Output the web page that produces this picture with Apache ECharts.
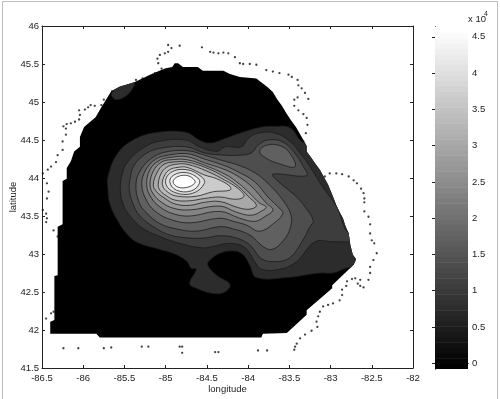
<!DOCTYPE html>
<html>
<head>
<meta charset="utf-8">
<style>html,body{margin:0;padding:0;background:#fff}#c{width:500px;height:399px}</style>
<script src="https://cdn.jsdelivr.net/npm/echarts@6/dist/echarts.min.js"></script>
</head>
<body>
<div id="c"></div>
<script>
// Axis ticks
const lonTicks = [-86.5, -82];
const latTicks = [41.5, 46];
const colorbarTicks = [0, 5000, 10000, 15000, 20000, 25000, 30000, 35000, 40000, 45000];
const colorbarRange = [-800, 46360];

// Field value at the lower edge of each filled band
const bandLevels = [0, 7400, 10500, 13700, 17000, 20300, 23600, 26900, 30200, 33500, 36800, 40100, 43400, 46360];

// Outline of the interpolated domain [lon, lat]
const domain = [[-86.40,41.95],[-86.40,42.11],[-86.35,42.13],[-86.35,42.71],[-86.31,42.72],[-86.31,43.36],[-86.25,43.39],[-86.25,43.96],[-86.20,43.99],[-86.20,44.13],[-86.15,44.22],[-86.11,44.35],[-86.04,44.41],[-86.04,44.54],[-85.99,44.67],[-85.85,44.80],[-85.78,44.93],[-85.66,45.14],[-85.56,45.20],[-85.38,45.26],[-85.19,45.36],[-85.01,45.44],[-84.92,45.46],[-84.89,45.51],[-84.85,45.51],[-84.79,45.46],[-84.61,45.46],[-84.55,45.41],[-84.30,45.41],[-84.22,45.37],[-84.10,45.33],[-83.90,45.31],[-83.83,45.25],[-83.77,45.20],[-83.70,45.13],[-83.65,45.04],[-83.59,44.95],[-83.54,44.86],[-83.48,44.76],[-83.42,44.67],[-83.35,44.54],[-83.29,44.42],[-83.29,44.35],[-83.23,44.26],[-83.18,44.18],[-83.13,44.11],[-83.08,44.01],[-83.03,43.91],[-82.98,43.78],[-82.93,43.64],[-82.89,43.55],[-82.85,43.47],[-82.82,43.37],[-82.78,43.27],[-82.76,43.12],[-82.73,42.99],[-82.69,42.93],[-82.72,42.86],[-82.98,42.59],[-82.98,42.55],[-83.29,42.26],[-83.29,42.20],[-83.53,41.96],[-83.82,41.95],[-83.84,41.90],[-85.80,41.90],[-85.84,41.95]];

// Contour outlines, outermost first; index matches bandLevels
const contour1 = [[-85.70,43.84],[-85.70,44.02],[-85.58,44.33],[-85.36,44.52],[-85.11,44.60],[-84.75,44.60],[-84.59,44.50],[-84.46,44.46],[-84.28,44.52],[-84.10,44.59],[-83.84,44.67],[-83.70,44.68],[-83.49,44.66],[-83.35,44.48],[-83.13,44.37],[-82.40,43.32],[-82.50,42.89],[-82.82,42.81],[-82.97,42.75],[-83.13,42.75],[-83.53,42.69],[-83.90,42.69],[-83.98,42.85],[-84.06,42.99],[-84.18,43.04],[-84.34,43.01],[-84.44,42.94],[-84.49,42.86],[-84.38,42.72],[-84.22,42.60],[-84.28,42.50],[-84.42,42.48],[-84.63,42.55],[-84.71,42.61],[-84.63,42.80],[-84.69,42.81],[-84.74,42.90],[-84.87,42.99],[-85.07,43.06],[-85.32,43.14],[-85.46,43.25],[-85.60,43.47],[-85.68,43.67]];
const contour2 = [[-85.55,43.84],[-85.52,44.08],[-85.44,44.24],[-85.28,44.39],[-85.09,44.48],[-84.75,44.50],[-84.59,44.41],[-84.38,44.35],[-84.28,44.41],[-84.08,44.41],[-84.00,44.52],[-83.88,44.59],[-83.67,44.59],[-83.49,44.48],[-83.37,44.33],[-83.25,44.15],[-83.10,43.89],[-82.93,43.63],[-82.76,43.25],[-82.40,43.17],[-82.97,43.16],[-83.19,43.16],[-83.41,42.90],[-83.61,42.80],[-83.84,42.80],[-83.92,42.90],[-83.98,43.01],[-84.06,43.10],[-84.22,43.14],[-84.39,43.11],[-84.55,43.08],[-84.83,43.14],[-85.07,43.23],[-85.28,43.34],[-85.44,43.51],[-85.52,43.67]];
const contour3 = [[-85.44,43.84],[-85.43,44.00],[-85.38,44.17],[-85.24,44.32],[-85.07,44.39],[-84.75,44.41],[-84.53,44.33],[-84.28,44.30],[-84.10,44.30],[-83.96,44.33],[-83.88,44.43],[-83.76,44.50],[-83.59,44.48],[-83.45,44.35],[-83.33,44.15],[-83.29,44.03],[-83.70,44.05],[-83.63,43.95],[-83.41,43.75],[-83.31,43.62],[-83.21,43.44],[-83.25,43.36],[-83.37,43.12],[-83.51,42.94],[-83.70,42.90],[-83.84,42.94],[-83.98,43.12],[-84.14,43.21],[-84.34,43.24],[-84.53,43.21],[-84.71,43.21],[-84.95,43.25],[-85.15,43.36],[-85.32,43.51],[-85.40,43.67]];
const contour4 = [[-85.36,43.92],[-85.30,44.11],[-85.17,44.26],[-85.01,44.34],[-84.74,44.36],[-84.53,44.30],[-84.28,44.22],[-84.12,44.17],[-83.92,44.07],[-83.76,43.93],[-83.58,43.71],[-83.48,43.51],[-83.49,43.34],[-83.57,43.18],[-83.71,43.06],[-83.82,43.10],[-83.98,43.25],[-84.18,43.33],[-84.34,43.36],[-84.63,43.30],[-84.87,43.33],[-85.07,43.40],[-85.23,43.54],[-85.32,43.67]];
const contour5 = [[-85.29,43.91],[-85.24,44.11],[-85.12,44.25],[-84.97,44.30],[-84.74,44.32],[-84.53,44.25],[-84.28,44.16],[-84.12,44.08],[-83.92,43.95],[-83.76,43.75],[-83.61,43.59],[-83.58,43.53],[-83.67,43.42],[-83.86,43.30],[-84.02,43.38],[-84.18,43.43],[-84.34,43.47],[-84.71,43.41],[-84.93,43.45],[-85.10,43.54],[-85.22,43.68]];
const contour6 = [[-85.23,43.91],[-85.19,44.11],[-85.08,44.23],[-84.95,44.27],[-84.74,44.28],[-84.53,44.20],[-84.28,44.11],[-84.12,44.02],[-83.96,43.89],[-83.78,43.67],[-83.70,43.58],[-83.80,43.49],[-83.92,43.43],[-84.10,43.47],[-84.34,43.56],[-84.71,43.50],[-84.91,43.53],[-85.07,43.62],[-85.18,43.75]];
const contour7 = [[-85.19,43.91],[-85.15,44.09],[-85.05,44.21],[-84.93,44.24],[-84.74,44.24],[-84.51,44.16],[-84.28,44.05],[-84.14,43.95],[-84.00,43.82],[-83.86,43.67],[-83.78,43.62],[-83.83,43.57],[-83.96,43.51],[-84.14,43.55],[-84.34,43.63],[-84.71,43.58],[-84.90,43.60],[-85.05,43.68],[-85.15,43.79]];
const contour8 = [[-85.15,43.91],[-85.10,44.08],[-85.02,44.18],[-84.90,44.21],[-84.74,44.21],[-84.50,44.13],[-84.28,44.01],[-84.12,43.89],[-84.00,43.76],[-83.90,43.64],[-83.98,43.59],[-84.12,43.61],[-84.34,43.69],[-84.53,43.68],[-84.71,43.64],[-84.89,43.66],[-85.02,43.74],[-85.11,43.82]];
const contour9 = [[-85.09,43.91],[-85.06,44.05],[-84.99,44.14],[-84.88,44.18],[-84.74,44.18],[-84.50,44.09],[-84.28,43.97],[-84.12,43.86],[-84.05,43.76],[-84.15,43.72],[-84.34,43.75],[-84.53,43.73],[-84.71,43.70],[-84.89,43.71],[-85.01,43.78],[-85.07,43.84]];
const contour10 = [[-85.04,43.91],[-85.01,44.04],[-84.95,44.11],[-84.85,44.14],[-84.74,44.14],[-84.53,44.04],[-84.38,43.99],[-84.22,43.89],[-84.22,43.84],[-84.42,43.82],[-84.63,43.76],[-84.85,43.76],[-84.97,43.81]];
const contour11 = [[-85.00,43.93],[-84.94,44.07],[-84.75,44.11],[-84.57,44.02],[-84.53,43.93],[-84.67,43.80],[-84.89,43.81]];
const contour12 = [[-84.95,43.95],[-84.90,44.04],[-84.75,44.07],[-84.61,44.00],[-84.59,43.93],[-84.69,43.83],[-84.87,43.84]];
const contour13 = [[-84.91,43.95],[-84.85,44.02],[-84.73,44.03],[-84.65,43.97],[-84.65,43.93],[-84.73,43.88],[-84.85,43.88]];

// Separate closed highs: the north-west shore patch and the north-east lobe
const patchNorthWest = [[-85.66,45.09],[-85.64,45.14],[-85.56,45.20],[-85.38,45.26],[-85.40,45.18],[-85.48,45.08],[-85.60,45.03]];
const patchNorthEast = [[-83.86,44.35],[-83.78,44.43],[-83.63,44.43],[-83.51,44.35],[-83.43,44.15],[-83.63,44.19],[-83.78,44.26]];

// Shoreline and station points [lon, lat]
const shorelineNorth = [[-86.44,43.73],[-86.42,43.82],[-86.44,43.93],[-86.49,44.06],[-86.43,44.11],[-86.39,44.15],[-86.33,44.21],[-86.31,44.30],[-86.25,44.37],[-86.25,44.48],[-86.21,44.57],[-86.21,44.65],[-86.24,44.68],[-86.20,44.71],[-86.15,44.72],[-86.10,44.74],[-86.05,44.77],[-86.04,44.83],[-86.05,44.89],[-85.98,44.90],[-85.94,44.93],[-85.91,44.96],[-85.86,44.95],[-85.78,44.96],[-85.75,45.03],[-85.65,45.14],[-85.36,45.29],[-85.28,45.31],[-85.13,45.38],[-85.05,45.44],[-85.09,45.51],[-85.10,45.57],[-85.07,45.62],[-85.01,45.64],[-84.97,45.66],[-84.93,45.71],[-84.97,45.75],[-84.83,45.74],[-84.56,45.72],[-84.46,45.66],[-84.42,45.65],[-84.36,45.64],[-84.30,45.65],[-84.24,45.64],[-84.16,45.59],[-84.10,45.51],[-84.06,45.50],[-83.98,45.50],[-83.90,45.49],[-83.78,45.42],[-83.70,45.40],[-83.62,45.38],[-83.51,45.36],[-83.47,45.33],[-83.40,45.29],[-83.39,45.22],[-83.35,45.18],[-83.31,45.12],[-83.27,45.04],[-83.40,45.06],[-83.44,45.03],[-83.44,44.95],[-83.39,44.89],[-83.33,44.84],[-83.29,44.79],[-83.28,44.70],[-83.30,44.59],[-83.33,44.48]];
const shorelineEast = [[-83.07,44.02],[-83.01,44.06],[-82.93,44.06],[-82.86,44.05],[-82.78,44.02],[-82.72,43.97],[-82.68,43.93],[-82.63,43.86],[-82.60,43.80],[-82.59,43.73],[-82.59,43.68],[-82.59,43.56],[-82.54,43.49],[-82.52,43.39],[-82.52,43.27],[-82.50,43.18],[-82.47,43.14],[-82.44,43.01],[-82.48,42.92],[-82.52,42.83],[-82.52,42.75],[-82.54,42.66],[-82.60,42.56],[-82.64,42.58],[-82.67,42.61],[-82.64,42.66],[-82.70,42.68],[-82.74,42.67],[-82.80,42.64],[-82.81,42.58],[-82.86,42.53],[-82.86,42.46],[-82.89,42.39],[-82.97,42.35],[-83.03,42.33],[-83.09,42.31],[-83.13,42.24],[-83.15,42.18],[-83.17,42.11],[-83.16,42.04],[-83.23,41.99],[-83.31,41.94],[-83.37,41.89],[-83.41,41.82],[-83.43,41.78],[-83.44,41.74]];
const shorelineSouth = [[-83.77,41.73],[-83.88,41.73],[-84.36,41.71],[-84.40,41.71],[-84.80,41.70],[-84.80,41.78],[-84.83,41.78],[-85.21,41.78],[-85.29,41.78],[-85.66,41.77],[-85.75,41.76],[-86.06,41.76],[-86.24,41.76]];
const shorelineWest = [[-86.49,43.58],[-86.45,43.53],[-86.44,43.47],[-86.45,43.42],[-86.36,43.31],[-86.31,43.23],[-86.36,42.24],[-86.39,42.22],[-86.45,42.15]];

const FONT = 'Liberation Sans';
const INK = '#222';

// Linear gray map spanning the colour bar's range
function grayOf(value) {
  const t = (value - colorbarRange[0]) / (colorbarRange[1] - colorbarRange[0]);
  const g = Math.round(Math.max(0, Math.min(1, t)) * 255);
  return 'rgb(' + g + ',' + g + ',' + g + ')';
}

// Painter's order: each entry is [outline, level index]
const fills = [
  [contour1, 1], [patchNorthWest, 1], [contour2, 2], [contour3, 3], [patchNorthEast, 4],
  [contour4, 4], [contour5, 5], [contour6, 6], [contour7, 7], [contour8, 8],
  [contour9, 9], [contour10, 10], [contour11, 11], [contour12, 12], [contour13, 13]
];

// The bar uses the 64 steps of the colormap
const barSteps = 64;
const barBands = [];
for (let i = 0; i < barSteps; i++) barBands.push([i]);

const baseAxis = {
  axisLine: { show: true, lineStyle: { color: INK, width: 1 } },
  axisTick: { show: true, inside: true, length: 3, lineStyle: { color: INK, width: 1 } },
  splitLine: { show: false },
  axisLabel: { color: INK, fontFamily: FONT, fontSize: 9.5 }
};
const nameStyle = { color: INK, fontFamily: FONT, fontSize: 9.5 };
const quiet = { axisLabel: { show: false } };

const chart = echarts.init(document.getElementById('c'), null, { renderer: 'canvas' });
chart.setOption({
  animation: false,
  backgroundColor: '#fff',
  grid: [
    { left: 42, right: 87, top: 26, bottom: 31, show: false, outerBoundsMode: 'none' },
    { left: 435, right: 32, top: 27, bottom: 30, show: false, outerBoundsMode: 'none' }
  ],
  xAxis: [
    Object.assign({}, baseAxis, { type: 'value', gridIndex: 0, position: 'bottom', min: lonTicks[0], max: lonTicks[1], interval: 0.5,
      name: 'longitude', nameLocation: 'middle', nameGap: 16, nameMoveOverlap: false, nameTextStyle: nameStyle,
      axisLabel: Object.assign({}, baseAxis.axisLabel, { margin: 5 }) }),
    Object.assign({}, baseAxis, quiet, { type: 'value', gridIndex: 0, position: 'top', min: lonTicks[0], max: lonTicks[1], interval: 0.5 }),
    { type: 'value', gridIndex: 1, min: 0, max: 1, show: true, position: 'bottom', axisLine: { show: true, lineStyle: { color: '#000' } }, axisTick: { show: false }, axisLabel: { show: false }, splitLine: { show: false } },
    { type: 'value', gridIndex: 1, min: 0, max: 1, show: true, position: 'top', axisLine: { show: true, lineStyle: { color: '#000' } }, axisTick: { show: false }, axisLabel: { show: false }, splitLine: { show: false } }
  ],
  yAxis: [
    Object.assign({}, baseAxis, { type: 'value', gridIndex: 0, position: 'left', min: latTicks[0], max: latTicks[1], interval: 0.5,
      name: 'latitude', nameLocation: 'middle', nameGap: 24, nameMoveOverlap: false, nameTextStyle: nameStyle,
      axisLabel: Object.assign({}, baseAxis.axisLabel, { margin: 3 }) }),
    Object.assign({}, baseAxis, quiet, { type: 'value', gridIndex: 0, position: 'right', min: latTicks[0], max: latTicks[1], interval: 0.5 }),
    Object.assign({}, baseAxis, { type: 'value', gridIndex: 1, position: 'right', min: colorbarRange[0], max: colorbarRange[1],
      axisTick: { show: true, inside: true, length: 3, customValues: colorbarTicks, lineStyle: { color: INK } },
      axisLabel: Object.assign({}, baseAxis.axisLabel, { margin: 4, customValues: colorbarTicks, formatter: v => String(v / 10000) }) }),
    Object.assign({}, baseAxis, quiet, { type: 'value', gridIndex: 1, position: 'left', min: colorbarRange[0], max: colorbarRange[1],
      axisTick: { show: true, inside: true, length: 3, customValues: colorbarTicks, lineStyle: { color: INK } } })
  ],
  graphic: [
    { type: 'line', silent: true, shape: { x1: 2.5, y1: 1.5, x2: 2.5, y2: 399 }, style: { stroke: '#bdbdbd', lineWidth: 1 } },
    { type: 'line', silent: true, shape: { x1: 2.5, y1: 1.5, x2: 497.5, y2: 1.5 }, style: { stroke: '#bdbdbd', lineWidth: 1 } },
    { type: 'line', silent: true, shape: { x1: 497.5, y1: 1.5, x2: 497.5, y2: 399 }, style: { stroke: '#bdbdbd', lineWidth: 1 } },
    { type: 'text', silent: true, left: 468, top: 14, style: { text: 'x 10', fill: INK, font: '9.5px "Liberation Sans"' } },
    { type: 'text', silent: true, left: 484, top: 11, style: { text: '4', fill: INK, font: '7px "Liberation Sans"' } }
  ],
  series: [
    {
      type: 'custom', xAxisIndex: 0, yAxisIndex: 0, coordinateSystem: 'cartesian2d', clip: true, silent: true, z: 2,
      data: [[-1]].concat(fills.map((f, i) => [i])),
      encode: { x: 0, y: 0 },
      renderItem: function (params, api) {
        const index = api.value(0);
        const domainPts = domain.map(p => api.coord(p));
        if (index < 0) {
          return { type: 'polygon', shape: { points: domainPts }, style: { fill: grayOf(bandLevels[0] - 800) } };
        }
        const f = fills[index];
        return {
          type: 'polygon',
          shape: { points: f[0].map(p => api.coord(p)), smooth: 0.4 },
          style: { fill: grayOf(bandLevels[f[1]]), stroke: '#1a1a1a', lineWidth: 0.75 },
          clipPath: { type: 'polygon', shape: { points: domainPts } }
        };
      }
    },
    {
      type: 'scatter', xAxisIndex: 0, yAxisIndex: 0, symbol: 'circle', symbolSize: 2.3, silent: true, z: 3,
      itemStyle: { color: '#111' },
      data: shorelineNorth.concat(shorelineEast, shorelineSouth, shorelineWest)
    },
    {
      type: 'custom', xAxisIndex: 2, yAxisIndex: 2, clip: true, silent: true, z: 2,
      data: barBands,
      encode: { x: 0 },
      renderItem: function (params, api) {
        const i = api.value(0);
        const span = colorbarRange[1] - colorbarRange[0];
        const low = colorbarRange[0] + span * i / barSteps;
        const high = colorbarRange[0] + span * (i + 1) / barSteps;
        const a = api.coord([0, high]);
        const b = api.coord([1, low]);
        const g = Math.round(i / (barSteps - 1) * 255);
        const c = 'rgb(' + g + ',' + g + ',' + g + ')';
        return { type: 'rect', shape: { x: a[0], y: a[1], width: b[0] - a[0], height: b[1] - a[1] + 0.5 }, style: { fill: c } };
      }
    }
  ]
});
</script>
</body>
</html>
